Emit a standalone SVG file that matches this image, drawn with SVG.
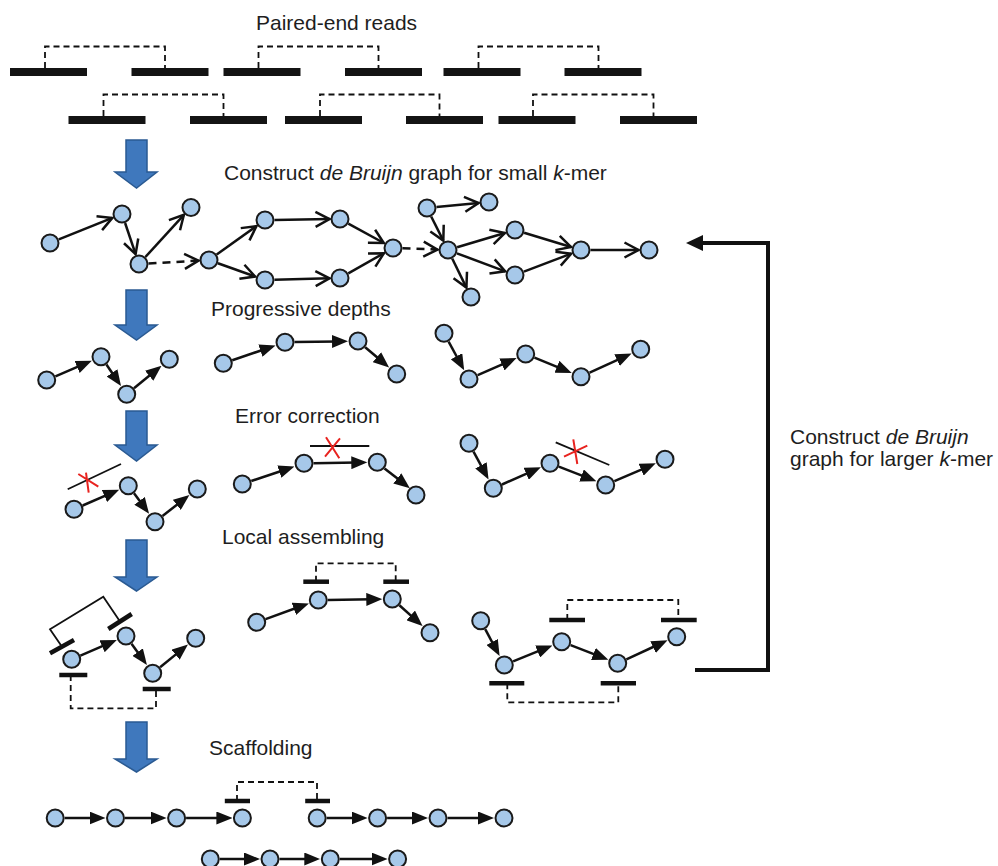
<svg xmlns="http://www.w3.org/2000/svg" width="998" height="866" viewBox="0 0 998 866">
<style>
.n{fill:#A6C8E9;stroke:#1a1a1a;stroke-width:2}
.e{stroke:#111;stroke-width:2.5;fill:none}
.eo{marker-end:url(#open)}
.ef{marker-end:url(#fill)}
.d{stroke-dasharray:8,6}
.bar{stroke:#111;stroke-width:4.5;fill:none}
.rb{fill:#141414}
.br{stroke:#111;stroke-width:1.8;fill:none;stroke-dasharray:6,4}
.th{stroke:#111;stroke-width:1.8;fill:none}
.x{stroke:#E8231F;stroke-width:2;fill:none}
.t{font-family:"Liberation Sans",Arial,Helvetica,sans-serif;font-size:21px;fill:#1e1e1e}
.blue{fill:#3F78BD;stroke:#2A5A92;stroke-width:1.5}
</style>
<defs>
<marker id="open" markerUnits="userSpaceOnUse" markerWidth="23" markerHeight="23" viewBox="-3 -3 23 23" refX="14" refY="7.5" orient="auto"><path d="M0,0 L14,7.5 L0,15" fill="none" stroke="#111" stroke-width="2.5"/></marker>
<marker id="fill" markerUnits="userSpaceOnUse" markerWidth="16" markerHeight="13" viewBox="0 0 16 13" refX="6" refY="6.5" orient="auto"><path d="M0,0 L16,6.5 L0,13 Z" fill="#111"/></marker>
</defs>
<rect width="998" height="866" fill="#fff"/>

<g id="labels">
<text class="t" x="256" y="30">Paired-end reads</text>
<text class="t" x="224" y="180">Construct <tspan font-style="italic">de Bruijn</tspan> graph for small <tspan font-style="italic">k</tspan>-mer</text>
<text class="t" x="211" y="316">Progressive depths</text>
<text class="t" x="235" y="423">Error correction</text>
<text class="t" x="222" y="544">Local assembling</text>
<text class="t" x="209" y="755">Scaffolding</text>
<text class="t" x="790" y="444">Construct <tspan font-style="italic">de Bruijn</tspan></text>
<text class="t" x="790" y="466">graph for larger <tspan font-style="italic">k</tspan>-mer</text>
</g>

<g id="paired-reads">
<rect class="rb" x="10" y="68" width="77" height="8"/>
<rect class="rb" x="131.5" y="68" width="77" height="8"/>
<rect class="rb" x="223.5" y="68" width="77" height="8"/>
<rect class="rb" x="345" y="68" width="77" height="8"/>
<rect class="rb" x="443.5" y="68" width="77" height="8"/>
<rect class="rb" x="564.5" y="68" width="77" height="8"/>
<rect class="rb" x="68.5" y="116" width="77" height="8"/>
<rect class="rb" x="190" y="116" width="77" height="8"/>
<rect class="rb" x="285" y="116" width="77" height="8"/>
<rect class="rb" x="406" y="116" width="77" height="8"/>
<rect class="rb" x="498.5" y="116" width="77" height="8"/>
<rect class="rb" x="620" y="116" width="77" height="8"/>
<path class="br" d="M45,68 V46.5 H165 V68"/>
<path class="br" d="M258.5,68 V46.5 H378.5 V68"/>
<path class="br" d="M478.5,68 V46.5 H598.5 V68"/>
<path class="br" d="M103.5,116 V94.5 H223.5 V116"/>
<path class="br" d="M320,116 V94.5 H439.5 V116"/>
<path class="br" d="M533,116 V94.5 H653.5 V116"/>
</g>

<g id="step-arrows">
<path class="blue" d="M126,140 H147 V172 H157 L136.5,188 L115,172 H126 Z"/>
<path class="blue" d="M126,290 H147 V325 H157 L136.5,340 L115,325 H126 Z"/>
<path class="blue" d="M126,411 H147 V445 H157 L136.5,461 L115,445 H126 Z"/>
<path class="blue" d="M126,540 H147 V577 H157 L136.5,591 L115,577 H126 Z"/>
<path class="blue" d="M126,722 H147 V759 H157 L136.5,772 L115,759 H126 Z"/>
</g>

<g id="connectors">
<!-- de Bruijn graph, small k -->
<line class="e eo" x1="58.8" y1="239.4" x2="112.3" y2="217.9"/>
<line class="e eo" x1="125.1" y1="223" x2="135.6" y2="254.1"/>
<line class="e eo" x1="145.4" y1="257" x2="183.9" y2="214.8"/>
<line class="e eo d" x1="148.5" y1="263.5" x2="198.5" y2="260.6"/>
<line class="e eo" x1="216.7" y1="254.5" x2="256.5" y2="226.1"/>
<line class="e eo" x1="217.9" y1="263.2" x2="255.1" y2="276.5"/>
<line class="e eo" x1="274.5" y1="219.9" x2="329.5" y2="219.1"/>
<line class="e eo" x1="274.5" y1="279.7" x2="329.5" y2="278.3"/>
<line class="e eo" x1="348.3" y1="223.6" x2="383.8" y2="243"/>
<line class="e eo" x1="348.3" y1="273.3" x2="383.9" y2="253.2"/>
<line class="e eo d" x1="402.5" y1="248.3" x2="437.5" y2="249.6"/>
<line class="e eo" x1="436.5" y1="207.1" x2="478.6" y2="203"/>
<line class="e eo" x1="431.2" y1="216.5" x2="443.3" y2="240.6"/>
<line class="e eo" x1="457.1" y1="247.3" x2="504.9" y2="233"/>
<line class="e eo" x1="456.9" y1="253.3" x2="505.2" y2="271.3"/>
<line class="e eo" x1="452.2" y1="258.5" x2="466.4" y2="287.6"/>
<line class="e eo" x1="524.1" y1="232.8" x2="571" y2="247"/>
<line class="e eo" x1="523.9" y1="271.6" x2="571.2" y2="253.7"/>
<line class="e eo" x1="590.5" y1="250" x2="638.5" y2="250"/>
<!-- progressive depths -->
<line class="e ef" x1="55.4" y1="376.3" x2="82.6" y2="364.6"/>
<line class="e ef" x1="106.4" y1="364.5" x2="115.4" y2="377.8"/>
<line class="e ef" x1="134" y1="388.3" x2="153.8" y2="372"/>
<line class="e ef" x1="232.3" y1="360.2" x2="266.1" y2="348.7"/>
<line class="e ef" x1="294.5" y1="342.1" x2="338" y2="341.4"/>
<line class="e ef" x1="365.2" y1="347.2" x2="381.5" y2="361"/>
<line class="e ef" x1="448.6" y1="341.6" x2="459.4" y2="361.5"/>
<line class="e ef" x1="477.7" y1="375.2" x2="507.4" y2="362.1"/>
<line class="e ef" x1="534.5" y1="357.6" x2="562.5" y2="369.1"/>
<line class="e ef" x1="589.6" y1="372.7" x2="622.5" y2="357.6"/>
<!-- error correction -->
<line class="e ef" x1="82.7" y1="505.5" x2="110" y2="493.7"/>
<line class="e ef" x1="134" y1="493.3" x2="143.1" y2="505.6"/>
<line class="e ef" x1="162.5" y1="515.9" x2="181.5" y2="501.2"/>
<line class="e ef" x1="251.3" y1="481" x2="285" y2="469.7"/>
<line class="e ef" x1="313.5" y1="463.2" x2="357.3" y2="462.6"/>
<line class="e ef" x1="384.5" y1="468.4" x2="402" y2="482.1"/>
<line class="e ef" x1="473.5" y1="451.7" x2="483.8" y2="470.7"/>
<line class="e ef" x1="502" y1="484.5" x2="531.7" y2="471.4"/>
<line class="e ef" x1="558.8" y1="466.7" x2="587.1" y2="477.7"/>
<line class="e ef" x1="614.4" y1="481.2" x2="646.6" y2="467.3"/>
<!-- removed edges -->
<line class="th" x1="67.7" y1="489.3" x2="121" y2="464" stroke-width="1.5"/>
<path class="x" d="M86,472.7 L88.7,492.7 M78.3,474 L98.3,486.7"/>
<line class="th" x1="310" y1="446" x2="369.3" y2="446" stroke-width="1.5"/>
<path class="x" d="M326,437.3 L339.3,458.3 M325,456.7 L340,438.3"/>
<line class="th" x1="555.7" y1="442.3" x2="609.3" y2="465" stroke-width="1.5"/>
<path class="x" d="M573.3,439.3 L577.3,464 M564,456.7 L587.3,445.7"/>
<!-- local assembling -->
<line class="e ef" x1="80.4" y1="655.6" x2="107.6" y2="643.9"/>
<line class="e ef" x1="131.5" y1="643.7" x2="141.1" y2="657"/>
<line class="e ef" x1="160.1" y1="667.3" x2="180.2" y2="650.9"/>
<line class="e ef" x1="265.6" y1="619.1" x2="299.5" y2="606.8"/>
<line class="e ef" x1="327.8" y1="599.9" x2="372.3" y2="599.3"/>
<line class="e ef" x1="399.4" y1="605.3" x2="415.1" y2="619.4"/>
<line class="e ef" x1="485.2" y1="629.1" x2="494.9" y2="647.3"/>
<line class="e ef" x1="513.1" y1="661.4" x2="543.2" y2="649.2"/>
<line class="e ef" x1="570.6" y1="645.1" x2="599" y2="656.1"/>
<line class="e ef" x1="626.4" y1="659.4" x2="658.5" y2="644.5"/>
<!-- read pairs in local assembling -->
<line class="bar" x1="50" y1="653.3" x2="74" y2="640"/>
<line class="bar" x1="108.3" y1="629" x2="131.7" y2="614"/>
<path class="th" d="M62,646.7 L50,629.3 L103.3,596.7 L120,621.5"/>
<line class="bar" x1="59.3" y1="675" x2="87.3" y2="675"/>
<line class="bar" x1="142.7" y1="689" x2="170.7" y2="689"/>
<path class="br" d="M70.7,675 V708.3 H156 V689"/>
<line class="bar" x1="303.3" y1="581.7" x2="329" y2="581.7"/>
<line class="bar" x1="383.3" y1="581.7" x2="409" y2="581.7"/>
<path class="br" d="M316,581.7 V563.3 H395.7 V581.7"/>
<line class="bar" x1="549.3" y1="620" x2="585" y2="620"/>
<line class="bar" x1="661" y1="620" x2="696.7" y2="620"/>
<path class="br" d="M567.3,620 V600 H678.3 V620"/>
<line class="bar" x1="489.3" y1="683.3" x2="524.3" y2="683.3"/>
<line class="bar" x1="600.7" y1="683.3" x2="636" y2="683.3"/>
<path class="br" d="M507.3,683.3 V702.3 H618.3 V683.3"/>
<!-- scaffolding -->
<line class="e ef" x1="64.7" y1="818" x2="95.5" y2="818"/>
<line class="e ef" x1="125" y1="818" x2="156.6" y2="818"/>
<line class="e ef" x1="186.1" y1="818" x2="222.4" y2="818"/>
<line class="e ef" x1="326.7" y1="818" x2="357.6" y2="818"/>
<line class="e ef" x1="387.1" y1="818" x2="418" y2="818"/>
<line class="e ef" x1="447.5" y1="818" x2="484" y2="818"/>
<line class="e ef" x1="219.8" y1="859" x2="250" y2="859"/>
<line class="e ef" x1="279.5" y1="859" x2="310.3" y2="859"/>
<line class="e ef" x1="339.8" y1="859" x2="377.6" y2="859"/>
<line class="bar" x1="224.8" y1="801" x2="250" y2="801" stroke-width="4"/>
<line class="bar" x1="305.2" y1="801" x2="330" y2="801" stroke-width="4"/>
<path class="br" d="M237,801 V782 H317 V801"/>
<!-- feedback loop -->
<path d="M695,670 H768 V243 H700" fill="none" stroke="#111" stroke-width="4"/>
<polygon points="686,243 703,235 703,251" fill="#111"/>
</g>

<g id="nodes">
<g id="n-A"><circle class="n" cx="50" cy="243" r="8.5"/></g>
<g id="n-B"><circle class="n" cx="122" cy="214" r="8.5"/></g>
<g id="n-C"><circle class="n" cx="191" cy="207.5" r="8.5"/></g>
<g id="n-D"><circle class="n" cx="139" cy="264" r="8.5"/></g>
<g id="n-E"><circle class="n" cx="209" cy="260" r="8.5"/></g>
<g id="n-F"><circle class="n" cx="265" cy="220" r="8.5"/></g>
<g id="n-G"><circle class="n" cx="265" cy="280" r="8.5"/></g>
<g id="n-H"><circle class="n" cx="340" cy="219" r="8.5"/></g>
<g id="n-I"><circle class="n" cx="340" cy="278" r="8.5"/></g>
<g id="n-J"><circle class="n" cx="393" cy="248" r="8.5"/></g>
<g id="n-K"><circle class="n" cx="427" cy="208" r="8.5"/></g>
<g id="n-L"><circle class="n" cx="489" cy="202" r="8.5"/></g>
<g id="n-M"><circle class="n" cx="448" cy="250" r="8.5"/></g>
<g id="n-N"><circle class="n" cx="515" cy="230" r="8.5"/></g>
<g id="n-O"><circle class="n" cx="515" cy="275" r="8.5"/></g>
<g id="n-P"><circle class="n" cx="581" cy="250" r="8.5"/></g>
<g id="n-Q"><circle class="n" cx="649" cy="250" r="8.5"/></g>
<g id="n-R"><circle class="n" cx="471" cy="297" r="8.5"/></g>

<g id="n-a1"><circle class="n" cx="46.7" cy="380" r="8.5"/></g>
<g id="n-a2"><circle class="n" cx="101" cy="356.7" r="8.5"/></g>
<g id="n-a3"><circle class="n" cx="126.7" cy="394.3" r="8.5"/></g>
<g id="n-a4"><circle class="n" cx="169.3" cy="359.3" r="8.5"/></g>
<g id="n-b1"><circle class="n" cx="223.3" cy="363.3" r="8.5"/></g>
<g id="n-b2"><circle class="n" cx="285" cy="342.3" r="8.5"/></g>
<g id="n-b3"><circle class="n" cx="358" cy="341" r="8.5"/></g>
<g id="n-b4"><circle class="n" cx="396.7" cy="374" r="8.5"/></g>
<g id="n-c1"><circle class="n" cx="444" cy="333.3" r="8.5"/></g>
<g id="n-c2"><circle class="n" cx="469" cy="379" r="8.5"/></g>
<g id="n-c3"><circle class="n" cx="525.7" cy="354" r="8.5"/></g>
<g id="n-c4"><circle class="n" cx="581" cy="376.7" r="8.5"/></g>
<g id="n-c5"><circle class="n" cx="640.7" cy="349.3" r="8.5"/></g>

<g id="n-d1"><circle class="n" cx="74" cy="509.3" r="8.5"/></g>
<g id="n-d2"><circle class="n" cx="128.3" cy="485.7" r="8.5"/></g>
<g id="n-d3"><circle class="n" cx="155" cy="521.7" r="8.5"/></g>
<g id="n-d4"><circle class="n" cx="197.3" cy="489" r="8.5"/></g>
<g id="n-e1"><circle class="n" cx="242.3" cy="484" r="8.5"/></g>
<g id="n-e2"><circle class="n" cx="304" cy="463.3" r="8.5"/></g>
<g id="n-e3"><circle class="n" cx="377.3" cy="462.3" r="8.5"/></g>
<g id="n-e4"><circle class="n" cx="416" cy="495" r="8.5"/></g>
<g id="n-f1"><circle class="n" cx="469" cy="443.3" r="8.5"/></g>
<g id="n-f2"><circle class="n" cx="493.3" cy="488.3" r="8.5"/></g>
<g id="n-f3"><circle class="n" cx="550" cy="463.3" r="8.5"/></g>
<g id="n-f4"><circle class="n" cx="605.7" cy="485" r="8.5"/></g>
<g id="n-f5"><circle class="n" cx="665" cy="459.3" r="8.5"/></g>

<g id="n-g1"><circle class="n" cx="71.7" cy="659.3" r="8.5"/></g>
<g id="n-g2"><circle class="n" cx="126" cy="636" r="8.5"/></g>
<g id="n-g3"><circle class="n" cx="152.7" cy="673.3" r="8.5"/></g>
<g id="n-g4"><circle class="n" cx="195.7" cy="638.3" r="8.5"/></g>
<g id="n-h1"><circle class="n" cx="256.7" cy="622.3" r="8.5"/></g>
<g id="n-h2"><circle class="n" cx="318.3" cy="600" r="8.5"/></g>
<g id="n-h3"><circle class="n" cx="392.3" cy="599" r="8.5"/></g>
<g id="n-h4"><circle class="n" cx="430" cy="632.7" r="8.5"/></g>
<g id="n-i1"><circle class="n" cx="480.7" cy="620.7" r="8.5"/></g>
<g id="n-i2"><circle class="n" cx="504.3" cy="665" r="8.5"/></g>
<g id="n-i3"><circle class="n" cx="561.7" cy="641.7" r="8.5"/></g>
<g id="n-i4"><circle class="n" cx="617.7" cy="663.3" r="8.5"/></g>
<g id="n-i5"><circle class="n" cx="676.7" cy="636.7" r="8.5"/></g>

<g id="n-s1"><circle class="n" cx="55.2" cy="818" r="8.5"/></g>
<g id="n-s2"><circle class="n" cx="115.5" cy="818" r="8.5"/></g>
<g id="n-s3"><circle class="n" cx="176.6" cy="818" r="8.5"/></g>
<g id="n-s4"><circle class="n" cx="242.4" cy="818" r="8.5"/></g>
<g id="n-s5"><circle class="n" cx="317.2" cy="818" r="8.5"/></g>
<g id="n-s6"><circle class="n" cx="377.6" cy="818" r="8.5"/></g>
<g id="n-s7"><circle class="n" cx="438" cy="818" r="8.5"/></g>
<g id="n-s8"><circle class="n" cx="504" cy="818" r="8.5"/></g>
<g id="n-t1"><circle class="n" cx="210.3" cy="859" r="8.5"/></g>
<g id="n-t2"><circle class="n" cx="270" cy="859" r="8.5"/></g>
<g id="n-t3"><circle class="n" cx="330.3" cy="859" r="8.5"/></g>
<g id="n-t4"><circle class="n" cx="397.6" cy="859" r="8.5"/></g>
</g>
</svg>
